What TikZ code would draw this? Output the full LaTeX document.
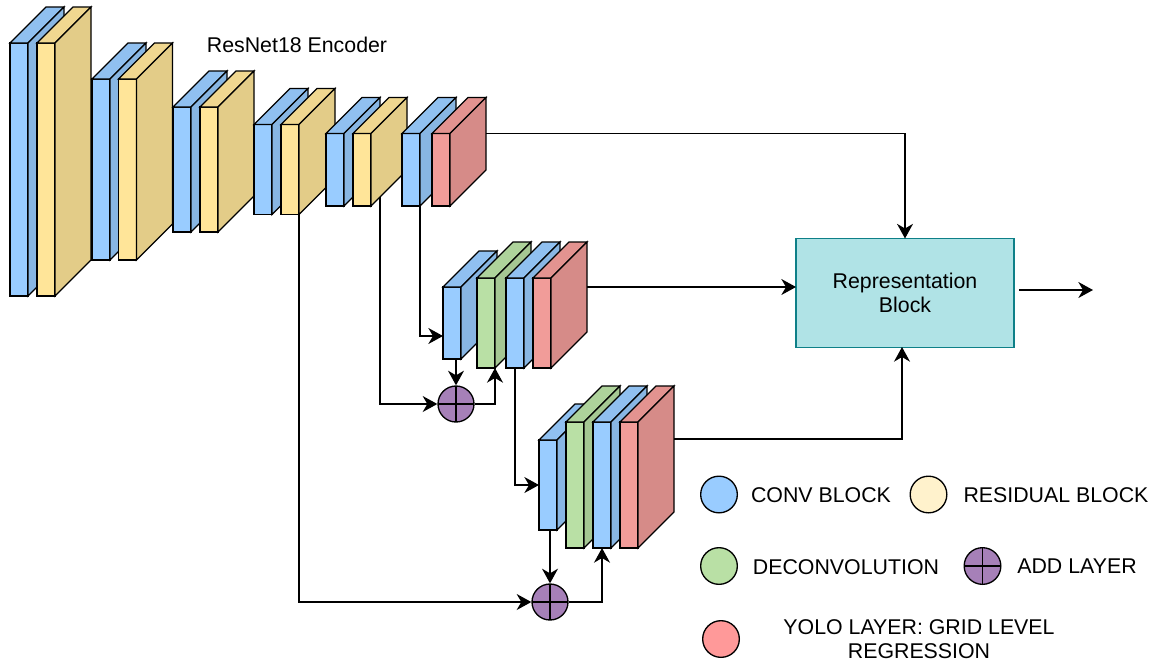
\documentclass[tikz,border=0pt]{standalone}
\usepackage{fontspec}
\setmainfont{Liberation Sans}
\usetikzlibrary{arrows.meta}
\definecolor{convblue}{HTML}{99CCFF}
\definecolor{resyellow}{HTML}{FFE599}
\definecolor{deconvgreen}{HTML}{B9E0A5}
\definecolor{yolored}{HTML}{F19C99}
\definecolor{addpurple}{HTML}{A680B8}
\definecolor{legyellow}{HTML}{FFF2CC}
\definecolor{legred}{HTML}{FF9999}
\definecolor{repfill}{HTML}{B0E3E6}
\definecolor{repline}{HTML}{0E8088}
\tikzset{
    label/.style={font=\fontsize{16}{18}\selectfont,align=center,inner sep=0pt},
    layer/.style={draw,anchor=north west,inner sep=0pt,outer sep=0pt},
    legend/.style={draw,circle,minimum size=27.5pt,inner sep=0pt,outer sep=0pt},
    addlayer/.style={draw,circle,minimum size=27pt,inner sep=0pt,fill=addpurple,
        path picture={\draw (path picture bounding box.north) -- (path picture bounding box.south)
        (path picture bounding box.west) -- (path picture bounding box.east);}},
    repblock/.style={draw=repline,fill=repfill,minimum width=163.5pt,minimum height=81.75pt,inner sep=0pt,outer sep=0pt}
}
% name, x, y, width, height, depth, colour
\newcommand{\layerblock}[7]{
    \node[layer,fill=#7,minimum width=#4*0.75pt,minimum height=#5*0.75pt] (#1) at (#2,#3) {};
    \draw[fill=#7!94!black] (#1.north west) -- ++(#6,-#6) -- ++(#4,0) -- (#1.north east) -- cycle;
    \draw[fill=#7!89!black] (#1.north east) -- ++(#6,-#6) -- ++(0,#5) -- (#1.south east) -- cycle;
    \coordinate (#1-e) at ([shift={(#6,-#6)}]#1.east);
}
\begin{document}
\begin{tikzpicture}[x=0.75pt,y=-0.75pt,>={Stealth[length=11pt,width=12pt,inset=3.5pt]},line width=1pt,line join=miter]
    \useasboundingbox (0,0) rectangle (1159,665);
    % encoder
    \layerblock{conv1}{10}{43}{18}{253}{36}{convblue}
    \layerblock{res1}{37}{43}{18}{253}{36}{resyellow}
    \layerblock{conv2}{92}{79}{18}{181}{36}{convblue}
    \layerblock{res2}{118.5}{79}{18}{181}{36}{resyellow}
    \layerblock{conv3}{173}{107}{18}{125}{36}{convblue}
    \layerblock{res3}{200}{107}{18}{125}{36}{resyellow}
    \layerblock{conv4}{254}{124.5}{18}{90}{36}{convblue}
    \layerblock{res4}{281}{124.5}{18}{90}{36}{resyellow}
    \layerblock{conv5}{326}{133.5}{18}{72.5}{36}{convblue}
    \layerblock{res5}{353}{133.5}{18}{72.5}{36}{resyellow}
    \layerblock{conv6}{402}{133.5}{18}{72.5}{36}{convblue}
    \layerblock{yolo1}{432}{133.5}{18}{72.5}{36}{yolored}
    % middle scale
    \layerblock{conv7}{443}{287}{18}{72}{36}{convblue}
    \layerblock{deconv1}{477}{278}{18}{90}{36}{deconvgreen}
    \layerblock{conv8}{506}{278}{18}{90}{36}{convblue}
    \layerblock{yolo2}{533}{278}{18}{90}{36}{yolored}
    % large scale
    \layerblock{conv9}{539}{440}{18}{90}{36}{convblue}
    \layerblock{deconv2}{566}{422}{18}{126}{36}{deconvgreen}
    \layerblock{conv10}{593}{422}{18}{126}{36}{convblue}
    \layerblock{yolo3}{620}{422}{18}{126}{36}{yolored}

    \node[addlayer] (add1) at (456,404) {};
    \node[addlayer] (add2) at (550,602) {};
    \node[repblock,label] (rep) at (905,293) {Representation\\Block};
    \node[label] (title) at (297,45) {ResNet18 Encoder};

    \coordinate (tap5) at (380,197);
    \coordinate (in7) at (443,336);
    \coordinate (out3) at (674,439);
    \coordinate (repin3) at (902,347);
    \coordinate (outa) at (1019,290);
    \coordinate (outb) at (1093,290);

    \draw[->] (yolo1-e) -| (rep.north);
    \draw[->] (yolo2-e) -- (yolo2-e -| rep.west);
    \draw[->] (out3) -| (repin3);
    \draw[->] (outa) -- (outb);
    \draw[->] (conv6.south east) |- (in7);
    \draw[->] (tap5) |- (add1.west);
    \draw[->] (res4.south east) |- (add2.west);
    \draw[->] (add1.north |- conv7.south) -- (add1.north);
    \draw[->] (add1.east) -| (deconv1.south east);
    \draw[->] (conv8.south) |- (conv9.west);
    \draw[->] (add2.north |- conv9.south) -- (add2.north);
    \draw[->] (add2.east) -| (conv10.south);

    % legend
    \node[legend,fill=convblue] (legconv) at (719,494.5) {};
    \node[legend,fill=legyellow] (legres) at (928.5,494.5) {};
    \node[legend,fill=deconvgreen] (legdeconv) at (719,566) {};
    \node[addlayer,minimum size=27.5pt] (legadd) at (982.5,566) {};
    \node[legend,fill=legred] (legyolo) at (721,639) {};
    \node[label] (txtconv) at (821,495) {CONV BLOCK};
    \node[label] (txtres) at (1056,495) {RESIDUAL BLOCK};
    \node[label] (txtdeconv) at (846,567.5) {DECONVOLUTION};
    \node[label] (txtadd) at (1077,566) {ADD LAYER};
    \node[label] (txtyolo) at (919,639) {YOLO LAYER: GRID LEVEL\\REGRESSION};
\end{tikzpicture}
\end{document}
